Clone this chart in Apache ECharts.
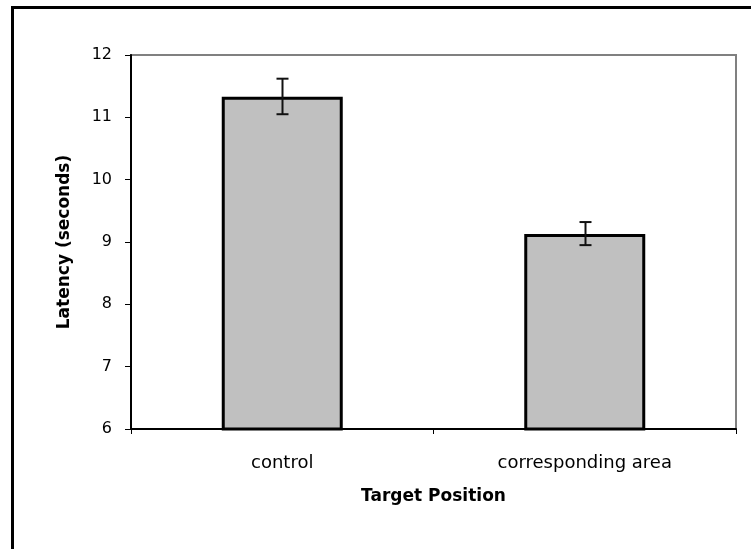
<!DOCTYPE html>
<html>
<head>
<meta charset="utf-8">
<script src="https://cdn.jsdelivr.net/npm/echarts@6/dist/echarts.min.js"></script>
<style>
  html, body { margin: 0; padding: 0; background: #fff; }
  #chart { width: 751px; height: 549px; }
</style>
</head>
<body>
<div id="chart"></div>
<script>
const categories = ['control', 'corresponding area'];
const latency = [11.33, 9.13];
const errLow = [11.05, 8.95];
const errHigh = [11.62, 9.32];
const yTicks = [6, 7, 8, 9, 10, 11, 12];

const font = '"DejaVu Sans", "Liberation Sans", sans-serif';
const chart = echarts.init(document.getElementById('chart'));

chart.setOption({
  animation: false,
  backgroundColor: '#fff',
  graphic: [
    {
      type: 'rect',
      shape: { x: 12.5, y: 7.5, width: 800, height: 600 },
      style: { fill: 'none', stroke: '#000', lineWidth: 3 },
      z: 100
    }
  ],
  grid: {
    left: 131,
    right: 15,
    top: 55,
    bottom: 120,
    show: true,
    borderColor: '#808080',
    borderWidth: 2,
    backgroundColor: '#fff'
  },
  xAxis: {
    type: 'category',
    data: categories,
    name: 'Target Position',
    nameLocation: 'middle',
    nameGap: 59,
    nameTextStyle: { fontFamily: font, fontSize: 17, fontWeight: 'bold', color: '#000' },
    axisLine: { lineStyle: { color: '#000', width: 2 } },
    axisTick: { show: true, length: 5, lineStyle: { color: '#000', width: 1 } },
    axisLabel: { fontFamily: font, fontSize: 18, color: '#000', margin: 25 },
    splitLine: { show: false }
  },
  yAxis: {
    type: 'value',
    min: yTicks[0],
    max: yTicks[yTicks.length - 1],
    interval: 1,
    name: 'Latency (seconds)',
    nameLocation: 'middle',
    nameGap: 58,
    nameTextStyle: { fontFamily: font, fontSize: 17, fontWeight: 'bold', color: '#000' },
    axisLine: { show: true, lineStyle: { color: '#000', width: 2 } },
    axisTick: { show: true, length: 6, lineStyle: { color: '#000', width: 1 } },
    axisLabel: { fontFamily: font, fontSize: 16, color: '#000', margin: 19 },
    splitLine: { show: false }
  },
  series: [
    {
      type: 'bar',
      data: latency,
      barWidth: '40%',
      itemStyle: { color: '#c0c0c0', borderColor: '#000', borderWidth: 3 },
      z: 2
    },
    {
      type: 'custom',
      data: categories.map((c, i) => [i, errLow[i], errHigh[i]]),
      renderItem: function (params, api) {
        const lo = api.coord([api.value(0), api.value(1)]);
        const hi = api.coord([api.value(0), api.value(2)]);
        const x = Math.round(lo[0]) + 0.5;
        const hw = 6;
        const st = { stroke: '#111', lineWidth: 2 };
        return {
          type: 'group',
          children: [
            { type: 'line', shape: { x1: x, y1: hi[1], x2: x, y2: lo[1] }, style: st },
            { type: 'line', shape: { x1: x - hw, y1: hi[1], x2: x + hw, y2: hi[1] }, style: st },
            { type: 'line', shape: { x1: x - hw, y1: lo[1], x2: x + hw, y2: lo[1] }, style: st }
          ]
        };
      },
      z: 5
    }
  ]
});
</script>
</body>
</html>
